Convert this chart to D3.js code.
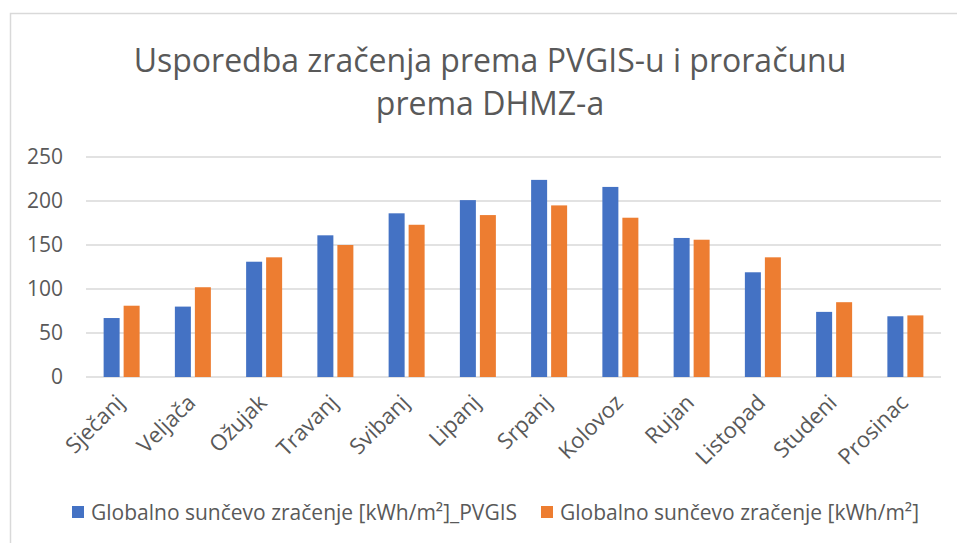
<!DOCTYPE html>
<html>
<head>
<meta charset="utf-8">
<script src="https://cdn.jsdelivr.net/npm/d3@7"></script>
<style>
  body { margin:0; background:#fff; }
  svg text { font-family: "Open Sans", sans-serif; fill:#595959; }
</style>
</head>
<body>
<svg id="chart" width="957" height="543"></svg>
<script>
// chart data
var months = ["Sječanj","Veljača","Ožujak","Travanj","Svibanj","Lipanj","Srpanj","Kolovoz","Rujan","Listopad","Studeni","Prosinac"];
var pvgis = [67, 80, 131, 161, 186, 201, 224, 216, 158, 119, 74, 69];
var dhmz  = [81, 102, 136, 150, 173, 184, 195, 181, 156, 136, 85, 70];
var seriesNames = ["Globalno sunčevo zračenje [kWh/m²]_PVGIS", "Globalno sunčevo zračenje [kWh/m²]"];
var seriesColors = ["#4472c4", "#ed7d31"];
var yTicks = [0, 50, 100, 150, 200, 250];

var margin = {top:157, left:86, right:16, bottom:166},
    width = 957 - margin.left - margin.right,
    height = 543 - margin.top - margin.bottom;

var svg = d3.select('#chart');

// chart border (only top/left visible in the crop)
svg.append('rect')
  .attr('x', 10.5).attr('y', 13.5)
  .attr('width', 960).attr('height', 540)
  .attr('fill', 'none').attr('stroke', '#d9d9d9').attr('stroke-width', 1.5);

// title
var title = svg.append('text')
  .attr('text-anchor', 'middle')
  .style('font-size', '32px');
title.append('tspan').attr('x', 490).attr('y', 72).text('Usporedba zračenja prema PVGIS-u i proračunu');
title.append('tspan').attr('x', 490).attr('y', 115).text('prema DHMZ-a');

var g = svg.append('g').attr('transform', 'translate(' + margin.left + ',' + margin.top + ')');

var x = d3.scaleBand().domain(months).range([0, width]).paddingInner(0).paddingOuter(0);
var y = d3.scaleLinear().domain([0, 250]).range([height, 0]);

// gridlines
g.selectAll('.grid')
  .data(yTicks)
  .enter().append('line')
    .attr('x1', 0).attr('x2', width)
    .attr('y1', function(d){ return y(d); }).attr('y2', function(d){ return y(d); })
    .attr('stroke', '#d9d9d9').attr('stroke-width', 1.5);

// y axis labels
g.call(d3.axisLeft(y).tickValues(yTicks).tickSize(0).tickPadding(23))
  .call(function(a){ a.select('.domain').remove(); })
  .selectAll('text')
    .style('font-size', '21px')
    .style('font-family', '"Open Sans", sans-serif')
    .attr('fill', '#595959');

// bars
var barW = 16, gap = 4;
var series = [pvgis, dhmz];
series.forEach(function(vals, si){
  g.selectAll('.bar' + si)
    .data(vals)
    .enter().append('rect')
      .attr('x', function(d, i){ return x(months[i]) + x.bandwidth()/2 + (si === 0 ? -barW - gap/2 : gap/2); })
      .attr('y', function(d){ return y(d); })
      .attr('width', barW)
      .attr('height', function(d){ return height - y(d); })
      .attr('fill', seriesColors[si]);
});

// x labels rotated
g.selectAll('.xlab')
  .data(months)
  .enter().append('text')
    .attr('text-anchor', 'end')
    .style('font-size', '22px')
    .attr('transform', function(d){
      return 'translate(' + (x(d) + x.bandwidth()/2 + 4) + ',' + (height + 27) + ') rotate(-45)';
    })
    .text(function(d){ return d; });

// legend
var legend = svg.append('g');
var lx = [72, 541];
seriesNames.forEach(function(name, i){
  legend.append('rect')
    .attr('x', lx[i]).attr('y', 506)
    .attr('width', 12).attr('height', 12)
    .attr('fill', seriesColors[i]);
  legend.append('text')
    .attr('x', lx[i] + 19).attr('y', 520)
    .style('font-size', '21px')
    .text(name);
});
</script>
</body>
</html>
